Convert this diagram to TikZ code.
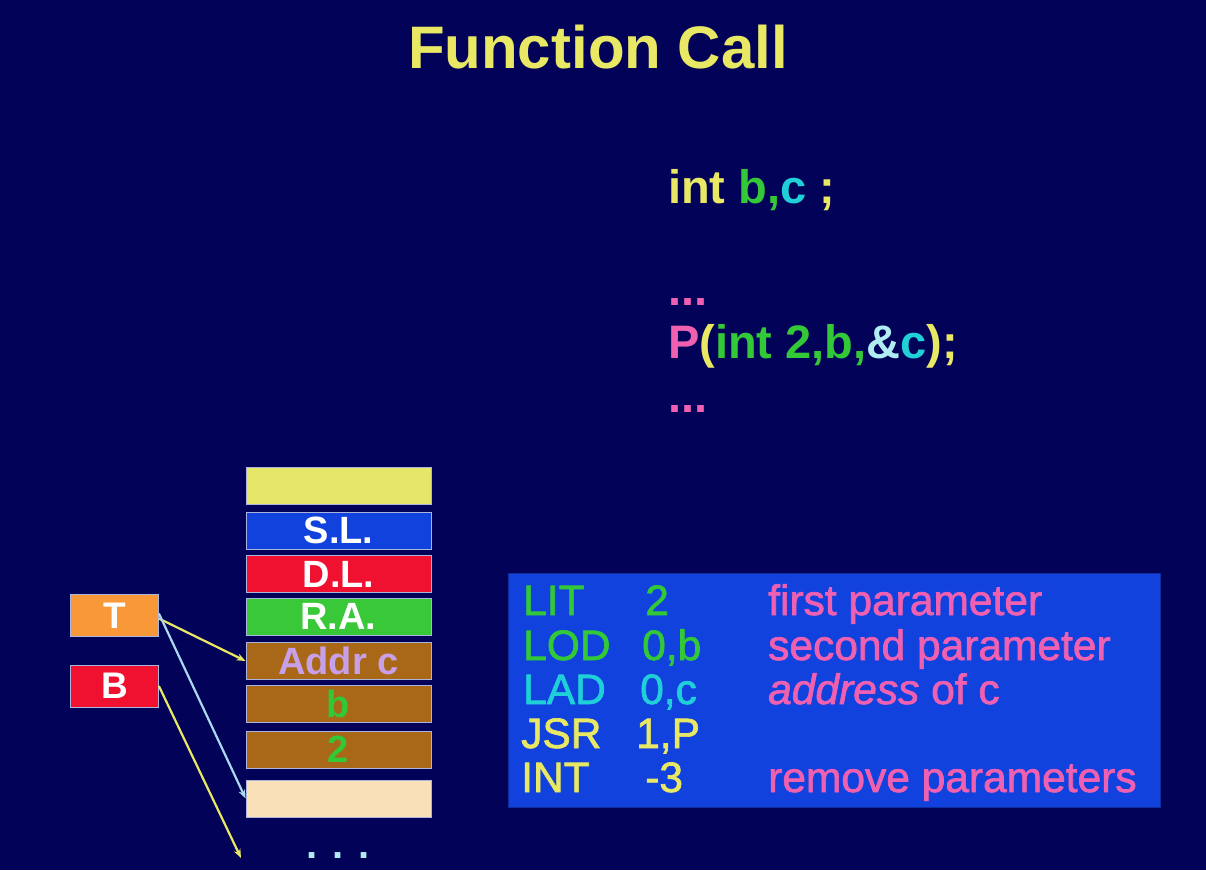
\documentclass[tikz,border=0pt]{standalone}
\usepackage{fontspec}
\setmainfont{Liberation Sans}
\newfontfamily\asmfont{Liberation Sans}[FakeBold=1.6]
\usetikzlibrary{arrows.meta}

\definecolor{bgnavy}{RGB}{2,2,88}
\definecolor{ttlyellow}{RGB}{232,232,100}
\definecolor{cgreen}{RGB}{50,200,56}
\definecolor{ccyan}{RGB}{32,208,216}
\definecolor{cpink}{RGB}{240,96,176}
\definecolor{cpale}{RGB}{176,236,240}
\definecolor{codeblue}{RGB}{18,66,222}
\definecolor{fyellow}{RGB}{230,230,104}
\definecolor{fblue}{RGB}{18,66,222}
\definecolor{fred}{RGB}{240,16,48}
\definecolor{fgreen}{RGB}{56,200,56}
\definecolor{fbrown}{RGB}{168,104,24}
\definecolor{fbeige}{RGB}{250,224,184}
\definecolor{forange}{RGB}{248,152,56}
\definecolor{flavender}{RGB}{200,160,232}
\definecolor{edgelight}{RGB}{170,180,220}
\definecolor{ptrblue}{RGB}{170,216,240}

\tikzset{
  stk/.style={draw=edgelight, line width=0.8pt, minimum width=185pt, minimum height=37pt,
    inner sep=0pt, font=\fontsize{38}{38}\selectfont\bfseries, text=white},
  regbox/.style={draw=edgelight, line width=0.8pt, minimum width=88pt, minimum height=42pt,
    inner sep=0pt, font=\fontsize{37}{37}\selectfont\bfseries, text=white},
  src/.style={anchor=base west, inner sep=0pt, font=\fontsize{47}{47}\selectfont\bfseries},
  asm/.style={anchor=base west, inner sep=0pt, font=\fontsize{42.5}{43}\asmfont},
  ptr/.style={line width=2.2pt, -{Stealth[length=9pt,width=7pt]}},
}

\begin{document}
\begin{tikzpicture}[x=1pt,y=-1pt]
  % page and background
  \fill[bgnavy] (0,0) rectangle (1206,870);
  \useasboundingbox (0,0) rectangle (1206,870);

  % title
  \node[anchor=base, inner sep=0pt, text=ttlyellow, font=\fontsize{60}{60}\selectfont\bfseries]
    (title) at (598,68) {Function Call};

  % source fragment
  \node[src] (decl) at (668,203) {\textcolor{ttlyellow}{int }\textcolor{cgreen}{b,}\textcolor{ccyan}{c}\textcolor{ttlyellow}{~;}};
  \node[src, text=cpink] (dotsa) at (668,305) {...};
  \node[src] (call) at (668,358) {\textcolor{cpink}{P}\textcolor{ttlyellow}{(}\textcolor{cgreen}{int 2,b,}\textcolor{cpale}{\&}\textcolor{ccyan}{c}\textcolor{ttlyellow}{);}};
  \node[src, text=cpink] (dotsb) at (668,412) {...};

  % runtime stack
  \node[stk, fill=fyellow]  (top)   at (338.5,486) {};
  \node[stk, fill=fblue]    (sl)    at (338.5,530.5) {S.L.};
  \node[stk, fill=fred]     (dl)    at (338.5,574) {D.L.};
  \node[stk, fill=fgreen]   (ra)    at (338.5,616.5) {R.A.};
  \node[stk, fill=fbrown, text=flavender] (addrc) at (338.5,661) {Addr c};
  \node[stk, fill=fbrown, text=cgreen]    (pb)    at (338.5,704) {b};
  \node[stk, fill=fbrown, text=cgreen]    (p2)    at (338.5,749.5) {2};
  \node[stk, fill=fbeige]   (free)  at (338.5,798.5) {};
  \node[anchor=base, inner sep=0pt, text=cpale, font=\fontsize{40}{40}\selectfont\bfseries]
    (more) at (338,858) {. . .};
  \coordinate (below) at (241,858);

  % registers
  \node[regbox, fill=forange] (T) at (114.5,615.5) {T};
  \node[regbox, fill=fred]    (B) at (114.5,686) {B};

  % register pointers
  \draw[ptr, ttlyellow] ([yshift=-3pt]T.east) -- (addrc.west);
  \draw[ptr, ptrblue]   ([yshift=2pt]T.east) -- (free.west);
  \draw[ptr, ttlyellow] (B.east) -- (below);

  % generated code
  \node[fill=codeblue, draw=codeblue!70!black, line width=0.8pt, minimum width=652pt, minimum height=234pt,
    inner sep=0pt] (code) at (834,690.5) {};
  \node[asm, text=cgreen] (m1) at (523,615) {LIT};
  \node[asm, text=cgreen] (o1) at (645,615) {2};
  \node[asm, text=cpink]  (c1) at (768,615) {first parameter};
  \node[asm, text=cgreen] (m2) at (523,660) {LOD};
  \node[asm, text=cgreen] (o2) at (642,660) {0,b};
  \node[asm, text=cpink]  (c2) at (768,660) {second parameter};
  \node[asm, text=ccyan]  (m3) at (523,704) {LAD};
  \node[asm, text=ccyan]  (o3) at (640,704) {0,c};
  \node[asm, text=cpink]  (c3) at (768,704) {\textit{address} of c};
  \node[asm, text=ttlyellow] (m4) at (521,748) {JSR};
  \node[asm, text=ttlyellow] (o4) at (636,748) {1,P};
  \node[asm, text=ttlyellow] (m5) at (521,792) {INT};
  \node[asm, text=ttlyellow] (o5) at (645,792) {-3};
  \node[asm, text=cpink]  (c5) at (768,792) {remove parameters};
\end{tikzpicture}
\end{document}
